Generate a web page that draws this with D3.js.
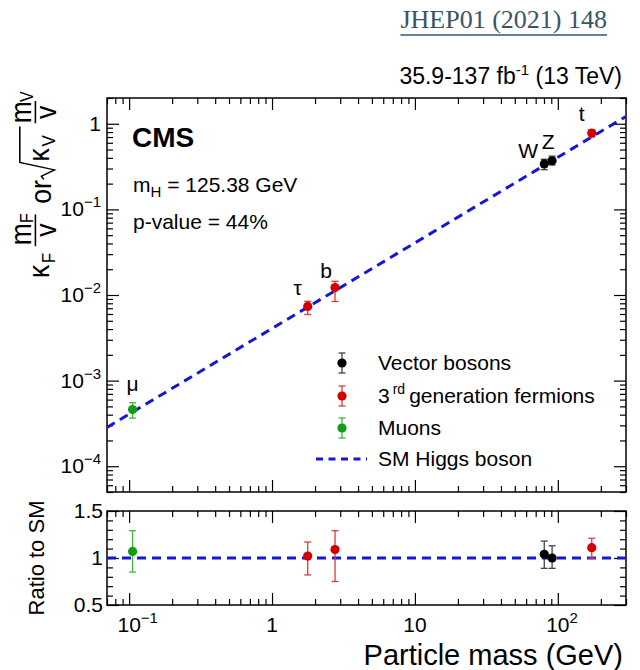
<!DOCTYPE html>
<html><head><meta charset="utf-8">
<script src="https://cdn.jsdelivr.net/npm/d3@7/dist/d3.min.js"></script>
<style>body{margin:0;background:#fff}svg{display:block}text{font-family:"Liberation Sans",Arial,sans-serif}</style>
</head><body>
<svg id="c" width="640" height="670"></svg>
<script>
// ---- data ----
const particles = ["μ", "τ", "b", "W", "Z", "t"];
const groups = ["muon", "fermion", "fermion", "vector", "vector", "fermion"];
const masses = [0.1057, 1.777, 2.76, 80.38, 91.19, 172.76];
const couplings = [4.59e-4, 7.36e-3, 1.222e-2, 0.3395, 0.370, 0.779];
const couplingLo = [3.65e-4, 5.92e-3, 8.4e-3, 0.291, 0.330, 0.702];
const couplingHi = [5.52e-4, 8.45e-3, 1.446e-2, 0.385, 0.419, 0.849];
const ratios = [1.07, 1.02, 1.09, 1.04, 1.00, 1.11];
const ratioLo = [0.85, 0.82, 0.75, 0.89, 0.89, 1.00];
const ratioHi = [1.29, 1.17, 1.29, 1.18, 1.13, 1.21];
const smLineMass = [0.07, 300];
const smLineValue = [2.843e-4, 1.2184];
const smRatio = [1, 1];
const xMajorTicks = [0.1, 1, 10, 100];
const xTickLabels = [["10", "−1"], ["1", ""], ["10", ""], ["10", "2"]];
const yMajorTicks = [1e-4, 1e-3, 1e-2, 1e-1, 1];
const yTickLabels = [["10", "−4"], ["10", "−3"], ["10", "−2"], ["10", "−1"], ["1", ""]];
const ratioMajorTicks = [0.5, 1, 1.5];
const ratioTickLabels = ["0.5", "1", "1.5"];
const legendLabels = ["Vector bosons", "3rd generation fermions", "Muons", "SM Higgs boson"];
const legendGroups = ["vector", "fermion", "muon", "line"];

const colors = {vector: "#000000", fermion: "#d40000", muon: "#119e11"};
const errColors = {vector: "#444444", fermion: "#dd3a3a", muon: "#3cb83c"};
const lineColor = "#1616d8";

// ---- layout ----
const svg = d3.select("#c");
const L = 107, R = 626;
const topT = 98, topB = 492;
const ratT = 511, ratB = 605;

const x = d3.scaleLog().domain([0.07, 300]).range([L, R]);
const y = d3.scaleLog().domain([5e-5, 2]).range([topB, topT]);
const yr = d3.scaleLinear().domain([0.5, 1.5]).range([ratB, ratT]);

function logMinors(lo, hi) {
  const out = [];
  for (let e = Math.floor(Math.log10(lo)); e <= Math.ceil(Math.log10(hi)); e++) {
    for (let k = 2; k <= 9; k++) {
      const v = k * Math.pow(10, e);
      if (v >= lo * 0.9999 && v <= hi * 1.0001) out.push(v);
    }
  }
  return out;
}
const xMinor = logMinors(0.07, 300);
const yMinor = logMinors(5e-5, 2);
const rMinor = d3.range(0.5, 1.5001, 0.1).map(v => +v.toFixed(2)).filter(v => ratioMajorTicks.indexOf(v) < 0);

function drawTicks(g, axisFn, scale, vals, size, tx, ty) {
  const a = axisFn(scale).tickValues(vals).tickSize(size).tickSizeOuter(0).tickFormat("");
  const sel = g.append("g").attr("transform", `translate(${tx},${ty})`).call(a);
  sel.select(".domain").remove();
  sel.selectAll(".tick line").attr("stroke", "#000").attr("stroke-width", 1.2);
}

function panel(yScale, yMaj, yMin, top, bottom) {
  const g = svg.append("g");
  drawTicks(g, d3.axisBottom, x, xMajorTicks, -12, 0, bottom);
  drawTicks(g, d3.axisBottom, x, xMinor, -6, 0, bottom);
  drawTicks(g, d3.axisTop, x, xMajorTicks, -12, 0, top);
  drawTicks(g, d3.axisTop, x, xMinor, -6, 0, top);
  drawTicks(g, d3.axisLeft, yScale, yMaj, -12, L, 0);
  drawTicks(g, d3.axisLeft, yScale, yMin, -6, L, 0);
  drawTicks(g, d3.axisRight, yScale, yMaj, -12, R, 0);
  drawTicks(g, d3.axisRight, yScale, yMin, -6, R, 0);
  g.append("rect").attr("x", L).attr("y", top).attr("width", R - L).attr("height", bottom - top)
    .attr("fill", "none").attr("stroke", "#000").attr("stroke-width", 1.5);
  return g;
}
panel(y, yMajorTicks, yMinor, topT, topB);
panel(yr, ratioMajorTicks, rMinor, ratT, ratB);

// ---- y tick labels (top) ----
yMajorTicks.forEach((v, i) => {
  const t = svg.append("text").attr("x", 101).attr("y", y(v) + 7).attr("text-anchor", "end")
    .attr("font-size", 21);
  t.append("tspan").text(yTickLabels[i][0]);
  if (yTickLabels[i][1]) t.append("tspan").attr("dy", -9).attr("font-size", 15).text(yTickLabels[i][1]);
});
ratioMajorTicks.forEach((v, i) => {
  svg.append("text").attr("x", 103).attr("y", yr(v) + 7).attr("text-anchor", "end")
    .attr("font-size", 21).text(ratioTickLabels[i]);
});
// ---- x tick labels ----
xMajorTicks.forEach((v, i) => {
  const t = svg.append("text").attr("y", 632).attr("font-size", 21);
  t.append("tspan").text(xTickLabels[i][0]);
  if (xTickLabels[i][1]) t.append("tspan").attr("dy", -9).attr("font-size", 15).text(xTickLabels[i][1]);
  const base = svg.append("text").attr("font-size", 21).text(xTickLabels[i][0]);
  const wb = base.node().getBBox().width; base.remove();
  t.attr("x", x(v) - wb / 2);
});

// ---- SM lines ----
svg.append("clipPath").attr("id", "ct").append("rect")
  .attr("x", L).attr("y", topT).attr("width", R - L).attr("height", topB - topT);
svg.append("path").attr("clip-path", "url(#ct)")
  .attr("d", d3.line().x(d => x(d[0])).y(d => y(d[1]))(d3.zip(smLineMass, smLineValue)))
  .attr("stroke", lineColor).attr("stroke-width", 3).attr("stroke-dasharray", "9,6").attr("fill", "none");
svg.append("path")
  .attr("d", d3.line().x(d => x(d[0])).y(d => yr(d[1]))(d3.zip(smLineMass, smRatio)))
  .attr("stroke", lineColor).attr("stroke-width", 3).attr("stroke-dasharray", "9,6").attr("fill", "none");

// ---- points ----
function errBar(px, y1, y2, col) {
  svg.append("line").attr("x1", px).attr("x2", px).attr("y1", y1).attr("y2", y2).attr("stroke", col).attr("stroke-width", 1.3);
  [y1, y2].forEach(yy => svg.append("line").attr("x1", px - 3.5).attr("x2", px + 3.5).attr("y1", yy).attr("y2", yy)
    .attr("stroke", col).attr("stroke-width", 1.3));
}
masses.forEach((m, i) => {
  const g = groups[i];
  errBar(x(m), y(couplingLo[i]), y(couplingHi[i]), errColors[g]);
  svg.append("circle").attr("cx", x(m)).attr("cy", y(couplings[i])).attr("r", 4.6).attr("fill", colors[g]);
  errBar(x(m), yr(ratioLo[i]), yr(ratioHi[i]), errColors[g]);
  svg.append("circle").attr("cx", x(m)).attr("cy", yr(ratios[i])).attr("r", 4.6).attr("fill", colors[g]);
});

// particle labels
const labelOffsets = {"μ": [0, -19], "τ": [-10, -11], "b": [-9, -10], "W": [-16, -6], "Z": [-4, -12], "t": [-10, -12]};
particles.forEach((p, i) => {
  const o = labelOffsets[p];
  svg.append("text").attr("x", x(masses[i]) + o[0]).attr("y", y(couplings[i]) + o[1])
    .attr("text-anchor", "middle").attr("font-size", 21).text(p);
});

// ---- texts ----
svg.append("text").attr("x", 132).attr("y", 147).attr("font-size", 28).attr("font-weight", "bold").text("CMS");
const mh = svg.append("text").attr("x", 133).attr("y", 192).attr("font-size", 21);
mh.append("tspan").text("m");
mh.append("tspan").attr("font-size", 15).attr("dy", 5).text("H");
mh.append("tspan").attr("dy", -5).text(" = 125.38 GeV");
svg.append("text").attr("x", 133).attr("y", 229).attr("font-size", 21).text("p-value = 44%");

const lumi = svg.append("text").attr("x", 622).attr("y", 84).attr("text-anchor", "end").attr("font-size", 23);
lumi.append("tspan").text("35.9-137 fb");
lumi.append("tspan").attr("font-size", 15).attr("dy", -9).text("-1");
lumi.append("tspan").attr("dy", 9).text(" (13 TeV)");

const jh = svg.append("text").attr("x", 607).attr("y", 28).attr("text-anchor", "end")
  .attr("font-size", 26).attr("fill", "#3b5566").style("font-family", "'Liberation Serif','DejaVu Serif',serif").text("JHEP01 (2021) 148");
const jb = jh.node().getBBox();
svg.append("line").attr("x1", jb.x).attr("x2", jb.x + jb.width).attr("y1", 35).attr("y2", 35).attr("stroke", "#3b5566").attr("stroke-width", 1.4);

// x title
svg.append("text").attr("x", 623).attr("y", 665).attr("text-anchor", "end").attr("font-size", 29).text("Particle mass (GeV)");
// ratio title
svg.append("text").attr("transform", "translate(44,558) rotate(-90)").attr("text-anchor", "middle")
  .attr("font-size", 22).text("Ratio to SM");

// ---- legend ----
const legY = [363, 396, 428, 459];
legendLabels.forEach((lab, i) => {
  const g = legendGroups[i];
  const ly = legY[i];
  if (g === "line") {
    svg.append("line").attr("x1", 316).attr("x2", 367).attr("y1", ly).attr("y2", ly)
      .attr("stroke", lineColor).attr("stroke-width", 3).attr("stroke-dasharray", "7,5.5");
  } else {
    errBar(342, ly - 10, ly + 10, errColors[g]);
    svg.append("circle").attr("cx", 342).attr("cy", ly).attr("r", 4.6).attr("fill", colors[g]);
  }
  const t = svg.append("text").attr("x", 378).attr("y", ly + 7).attr("font-size", 21);
  if (i === 1) {
    t.append("tspan").text("3");
    t.append("tspan").attr("font-size", 14).attr("dy", -9).attr("dx", 3).text("rd");
    t.append("tspan").attr("dy", 9).attr("dx", 4).text("generation fermions");
  } else t.text(lab);
});

// ---- y title (rotated) ----
const yt = svg.append("g").attr("transform", "translate(51,278) rotate(-90) scale(1.06,1.2)");
function tx(g, xx, yy, s, txt) { return g.append("text").attr("x", xx).attr("y", yy).attr("font-size", s).text(txt); }
tx(yt, 0, -2, 25, "κ");
tx(yt, 14, 3, 16, "F");
yt.append("line").attr("x1", 30).attr("x2", 60).attr("y1", -13).attr("y2", -13).attr("stroke", "#000").attr("stroke-width", 1.3);
tx(yt, 31, -17, 25, "m");
tx(yt, 52, -15, 15, "F");
tx(yt, 39, 4, 25, "v");
tx(yt, 70, 0, 25, "or");
yt.append("path").attr("d", "M93,-6 L96,-8 L102,3 L109,-26 L143,-26").attr("fill", "none").attr("stroke", "#000").attr("stroke-width", 1.3);
tx(yt, 110, -2, 25, "κ");
tx(yt, 124, 3, 16, "V");
yt.append("line").attr("x1", 146).attr("x2", 167).attr("y1", -13).attr("y2", -13).attr("stroke", "#000").attr("stroke-width", 1.3);
tx(yt, 146, -17, 25, "m");
tx(yt, 166, -15, 15, "V");
tx(yt, 150, 4, 25, "v");
</script>
</body></html>
